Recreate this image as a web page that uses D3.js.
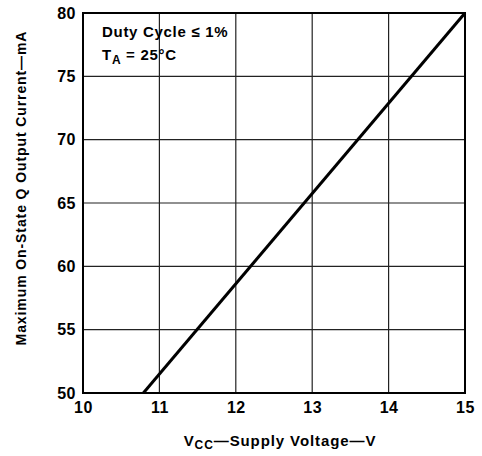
<!DOCTYPE html>
<html><head><meta charset="utf-8">
<script src="https://cdn.jsdelivr.net/npm/d3@7"></script>
<style>body{margin:0;background:#fff}text{font-family:"Liberation Sans",Arial,sans-serif;font-weight:bold;fill:#000}</style>
</head><body><svg id="c" width="482" height="456"></svg>
<script>
const xTicks=[10,11,12,13,14,15];
const yTicks=[50,55,60,65,70,75,80];
const lineX=[10.79,15];
const lineY=[50,80];
const svg=d3.select("#c");
const m={l:83,r:465,t:13,b:393};
const x=d3.scaleLinear().domain([10,15]).range([m.l,m.r]);
const y=d3.scaleLinear().domain([50,80]).range([m.b,m.t]);
const g=svg.append("g");
g.selectAll(".vx").data(xTicks.slice(1,-1)).enter().append("line")
 .attr("x1",d=>x(d)).attr("x2",d=>x(d)).attr("y1",m.t).attr("y2",m.b).attr("stroke","#222").attr("stroke-width",1.2);
g.selectAll(".hy").data(yTicks.slice(1,-1)).enter().append("line")
 .attr("y1",d=>y(d)).attr("y2",d=>y(d)).attr("x1",m.l).attr("x2",m.r).attr("stroke","#222").attr("stroke-width",1.2);
g.append("rect").attr("x",m.l).attr("y",m.t).attr("width",m.r-m.l).attr("height",m.b-m.t).attr("fill","none").attr("stroke","#000").attr("stroke-width",2);
const style=s=>{s.select(".domain").remove();s.selectAll("text").attr("font-size",16).attr("font-family","Liberation Sans, Arial, sans-serif").attr("font-weight","bold").attr("letter-spacing",0.5);};
const xa=d3.axisBottom(x).tickValues(xTicks).tickFormat(d3.format("d")).tickSize(0).tickPadding(9);
svg.append("g").attr("transform",`translate(0,${m.b})`).call(xa).call(style);
const ya=d3.axisLeft(y).tickValues(yTicks).tickFormat(d3.format("d")).tickSize(0).tickPadding(7);
svg.append("g").attr("transform",`translate(${m.l},0)`).call(ya).call(style);
svg.append("path").datum(lineX.map((d,i)=>[d,lineY[i]])).attr("d",d3.line().x(d=>x(d[0])).y(d=>y(d[1])))
 .attr("stroke","#000").attr("stroke-width",3).attr("fill","none");
svg.append("text").attr("x",102).attr("y",37).attr("font-size",15).attr("letter-spacing",0.7).text("Duty Cycle \u2264 1%");
const t=svg.append("text").attr("x",102).attr("y",60).attr("font-size",15).attr("letter-spacing",0.7);
t.append("tspan").text("T");
t.append("tspan").attr("font-size",12).attr("dy",4).text("A");
t.append("tspan").attr("dy",-4).text(" = 25\u00B0C");
const xt=svg.append("text").attr("x",280).attr("y",446).attr("text-anchor","middle").attr("font-size",15).attr("letter-spacing",0.9);
xt.append("tspan").text("V");
xt.append("tspan").attr("font-size",12).attr("dy",3).text("CC");
xt.append("tspan").attr("dy",-3).text("\u2014Supply Voltage\u2014V");
svg.append("text").attr("transform",`translate(26,188) rotate(-90)`).attr("text-anchor","middle").attr("font-size",14).attr("letter-spacing",0.9).text("Maximum On-State Q Output Current\u2014mA");
</script></body></html>
